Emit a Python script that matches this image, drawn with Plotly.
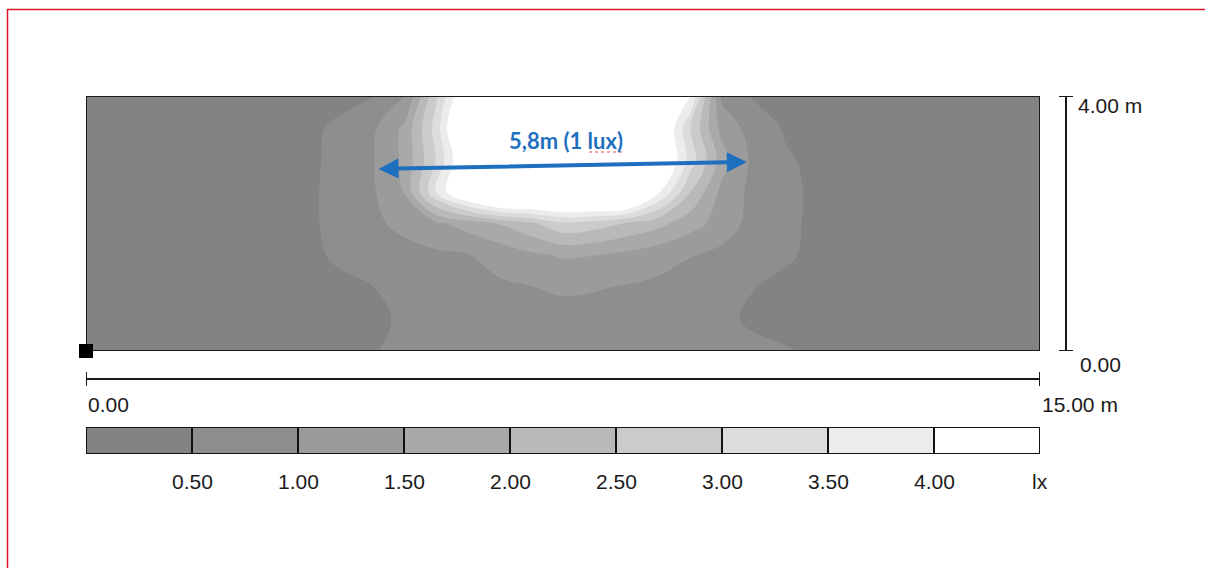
import plotly.graph_objects as go

W, H = 1205, 568

# ---------------- data ----------------
# grid of the calculation surface (m)
x_m = [0.0, 0.5, 1.0, 1.5, 2.0, 2.5, 3.0, 3.5, 4.0, 4.5, 5.0, 5.5, 6.0, 6.5, 7.0, 7.5,
       8.0, 8.5, 9.0, 9.5, 10.0, 10.5, 11.0, 11.5, 12.0, 12.5, 13.0, 13.5, 14.0, 14.5, 15.0]
y_m = [0.0, 0.5, 1.0, 1.5, 2.0, 2.5, 3.0, 3.5, 4.0]

# illuminance (lx) read row by row, from y = 0 m up to y = 4 m
lux_y00 = [0.3, 0.3, 0.3, 0.3, 0.3, 0.3, 0.3, 0.3, 0.3, 0.47, 0.62, 0.7, 0.74, 0.78, 0.85, 0.88,
           0.85, 0.8, 0.76, 0.72, 0.68, 0.62, 0.54, 0.42, 0.3, 0.3, 0.3, 0.3, 0.3, 0.3, 0.3]
lux_y05 = [0.3, 0.3, 0.3, 0.3, 0.3, 0.3, 0.3, 0.3, 0.3, 0.38, 0.58, 0.7, 0.75, 0.78, 0.82, 0.85,
           0.83, 0.8, 0.76, 0.7, 0.6, 0.42, 0.32, 0.3, 0.3, 0.3, 0.3, 0.3, 0.3, 0.3, 0.3]
lux_y10 = [0.3, 0.3, 0.3, 0.3, 0.3, 0.3, 0.3, 0.3, 0.4, 0.49, 0.66, 0.76, 0.84, 0.92, 0.99, 1.06,
           1.03, 0.97, 0.9, 0.82, 0.7, 0.51, 0.4, 0.32, 0.3, 0.3, 0.3, 0.3, 0.3, 0.3, 0.3]
lux_y15 = [0.3, 0.3, 0.3, 0.3, 0.3, 0.3, 0.3, 0.4, 0.58, 0.7, 0.8, 0.9, 0.98, 1.18, 1.4, 1.55,
           1.5, 1.36, 1.18, 1.02, 0.85, 0.72, 0.56, 0.4, 0.3, 0.3, 0.3, 0.3, 0.3, 0.3, 0.3]
lux_y20 = [0.3, 0.3, 0.3, 0.3, 0.3, 0.3, 0.3, 0.42, 0.65, 0.88, 1.15, 1.4, 1.7, 2.02, 2.4, 2.9,
           2.75, 2.45, 2.15, 1.7, 1.3, 0.8, 0.58, 0.42, 0.3, 0.3, 0.3, 0.3, 0.3, 0.3, 0.3]
lux_y25 = [0.3, 0.3, 0.3, 0.3, 0.3, 0.3, 0.3, 0.42, 0.66, 0.93, 1.52, 3.5, 5.0, 6.0, 6.0, 6.0,
           6.0, 6.0, 4.1, 2.52, 1.35, 0.85, 0.6, 0.42, 0.3, 0.3, 0.3, 0.3, 0.3, 0.3, 0.3]
lux_y30 = [0.3, 0.3, 0.3, 0.3, 0.3, 0.3, 0.3, 0.4, 0.65, 0.95, 1.6, 3.02, 4.8, 6.5, 6.5, 6.5,
           6.5, 6.5, 5.0, 3.3, 1.75, 0.85, 0.55, 0.4, 0.3, 0.3, 0.3, 0.3, 0.3, 0.3, 0.3]
lux_y35 = [0.3, 0.3, 0.3, 0.3, 0.3, 0.3, 0.3, 0.4, 0.6, 0.9, 1.6, 3.2, 5.5, 7.0, 7.0, 7.0,
           7.0, 7.0, 5.0, 3.02, 1.3, 0.8, 0.45, 0.35, 0.3, 0.3, 0.3, 0.3, 0.3, 0.3, 0.3]
lux_y40 = [0.3, 0.3, 0.3, 0.3, 0.3, 0.3, 0.3, 0.3, 0.35, 0.45, 0.95, 2.9, 4.8, 6.0, 6.5, 6.5,
           6.5, 6.0, 5.2, 4.05, 0.9, 0.45, 0.35, 0.3, 0.3, 0.3, 0.3, 0.3, 0.3, 0.3, 0.3]

# legend
iso_levels = [0.5, 1.0, 1.5, 2.0, 2.5, 3.0, 3.5, 4.0]
iso_labels = ["0.50", "1.00", "1.50", "2.00", "2.50", "3.00", "3.50", "4.00"]
unit_label = "lx"
band_colors = ["#838383", "#8e8e8e", "#9b9b9b", "#a9a9a9", "#b9b9b9",
               "#cbcbcb", "#dcdcdc", "#ececec", "#ffffff"]
band_centers = [0.25, 0.75, 1.25, 1.75, 2.25, 2.75, 3.25, 3.75, 4.25]

# room dimensions and scale labels
room_w, room_h = 15.0, 4.0
x_scale_labels = ["0.00", "15.00 m"]
y_scale_labels = ["0.00", "4.00 m"]

# measurement annotation (1 lux width)
arrow_x = [4.575, 10.39]
arrow_y = [2.855, 2.965]
arrow_text = "5,8m (1 lux)"

# ---------------- figure ----------------
Z = [lux_y00, lux_y05, lux_y10, lux_y15, lux_y20, lux_y25, lux_y30, lux_y35, lux_y40]


def px(v):
    return v / W


def py(v):
    return 1 - v / H


n = len(band_colors)
cscale = []
for k, c in enumerate(band_colors):
    lo = max(0.0, (k - 0.5) / (n - 1))
    hi = min(1.0, (k + 0.5) / (n - 1))
    cscale.append([lo, c])
    cscale.append([hi, c])

fig = go.Figure()
fig.add_trace(go.Contour(
    x=x_m, y=y_m, z=Z,
    contours=dict(start=iso_levels[0], end=iso_levels[-1], size=0.5,
                  coloring="fill", showlines=False),
    colorscale=cscale, showscale=False,
    line=dict(width=0, smoothing=1.0),
    hoverinfo="skip",
))

fig.add_trace(go.Bar(
    x=band_centers, y=[1] * len(band_centers), width=0.5, base=0,
    marker=dict(color=band_colors, line=dict(color="#111111", width=2)),
    xaxis="x2", yaxis="y2", cliponaxis=False, hoverinfo="skip", showlegend=False,
))

XD = [86 / W, 1040 / W]
fig.update_layout(
    width=W, height=H,
    margin=dict(l=0, r=0, t=0, b=0),
    paper_bgcolor="white", plot_bgcolor="white",
    showlegend=False, bargap=0,
    xaxis=dict(domain=XD, range=[0, room_w], visible=False, fixedrange=True),
    yaxis=dict(domain=[py(351), py(96)], range=[0, room_h], visible=False, fixedrange=True),
    xaxis2=dict(domain=XD, range=[0, 4.5], visible=False, anchor="y2"),
    yaxis2=dict(domain=[py(454), py(427)], range=[0, 1], visible=False, anchor="x2"),
)

shapes = []
# red page border
shapes.append(dict(type="rect", xref="paper", yref="paper",
                   x0=px(7.5), x1=1.05, y0=-0.05, y1=py(9.5),
                   line=dict(color="#d9182a", width=1.5), fillcolor="rgba(0,0,0,0)"))
# frame of the calculation surface
shapes.append(dict(type="rect", xref="x", yref="y", x0=0, x1=room_w, y0=0, y1=room_h,
                   line=dict(color="#1a1a1a", width=2)))
# origin marker
shapes.append(dict(type="rect", xref="paper", yref="paper",
                   x0=px(79), x1=px(93), y0=py(358), y1=py(344),
                   fillcolor="black", line=dict(width=0)))
# vertical scale bar
shapes.append(dict(type="line", xref="paper", yref="y", x0=px(1066), x1=px(1066),
                   y0=0, y1=room_h, line=dict(color="#1a1a1a", width=2)))
for yy in (0, room_h):
    shapes.append(dict(type="line", xref="paper", yref="y", x0=px(1059), x1=px(1073),
                       y0=yy, y1=yy, line=dict(color="#1a1a1a", width=2)))
# horizontal scale bar
shapes.append(dict(type="line", xref="x", yref="paper", x0=0, x1=room_w,
                   y0=py(379), y1=py(379), line=dict(color="#1a1a1a", width=2)))
for xx in (0, room_w):
    shapes.append(dict(type="line", xref="x", yref="paper", x0=xx, x1=xx,
                       y0=py(372), y1=py(386), line=dict(color="#1a1a1a", width=2)))
# spell-check squiggle under "lux"
shapes.append(dict(type="line", xref="paper", yref="paper", x0=px(589), x1=px(622),
                   y0=py(152), y1=py(152), line=dict(color="#e05060", width=1, dash="dot")))
fig.update_layout(shapes=shapes)

LBL = dict(family="Liberation Sans, Arial, sans-serif", size=21, color="#1a1a1a")
ann = []
ann.append(dict(text=y_scale_labels[1], xref="paper", yref="paper", x=px(1076), y=py(106),
                xanchor="left", yanchor="middle", showarrow=False, font=LBL))
ann.append(dict(text=y_scale_labels[0], xref="paper", yref="paper", x=px(1078), y=py(364),
                xanchor="left", yanchor="middle", showarrow=False, font=LBL))
ann.append(dict(text=x_scale_labels[0], xref="x", yref="paper", x=0, y=py(404),
                xanchor="left", yanchor="middle", showarrow=False, font=LBL))
ann.append(dict(text=x_scale_labels[1], xref="x", yref="paper", x=room_w, y=py(404),
                xanchor="left", yanchor="middle", showarrow=False, font=LBL))
for lv, lb in zip(iso_levels, iso_labels):
    ann.append(dict(text=lb, xref="x2", yref="paper", x=lv, y=py(481),
                    xanchor="center", yanchor="middle", showarrow=False, font=LBL))
ann.append(dict(text=unit_label, xref="x2", yref="paper", x=4.5, y=py(481),
                xanchor="center", yanchor="middle", showarrow=False, font=LBL))
# double arrow
ann.append(dict(text="", x=arrow_x[1], y=arrow_y[1], ax=arrow_x[0], ay=arrow_y[0],
                xref="x", yref="y", axref="x", ayref="y", showarrow=True,
                arrowhead=2, startarrowhead=2, arrowside="end+start",
                arrowsize=1, startarrowsize=1, arrowwidth=4, arrowcolor="#1f6fbf",
                standoff=0, startstandoff=0))
ann.append(dict(text="<b>" + arrow_text + "</b>", xref="paper", yref="paper",
                x=px(566), y=py(140), xanchor="center", yanchor="middle", showarrow=False,
                font=dict(family="Lato, Open Sans, sans-serif", size=22, color="#1f6fbf")))
fig.update_layout(annotations=ann)

fig.write_html("out.html", config={"displayModeBar": False},
               post_script="document.body.style.margin='0';document.body.style.overflow='hidden';")
